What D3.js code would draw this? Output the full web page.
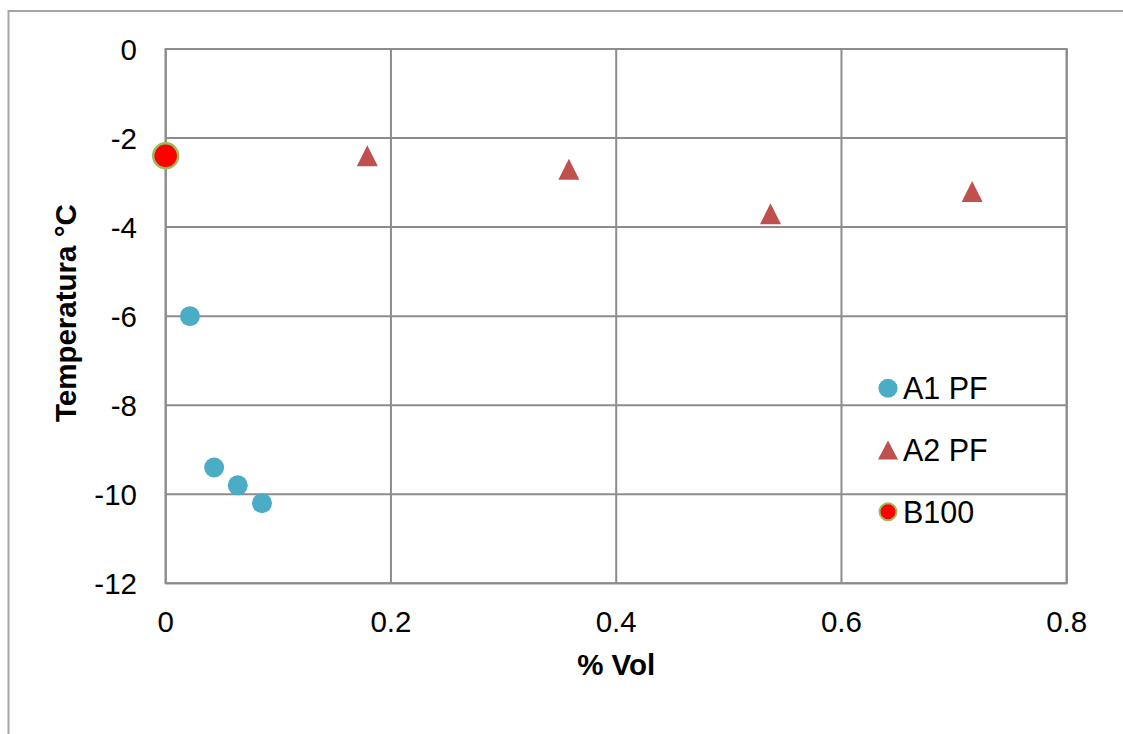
<!DOCTYPE html>
<html>
<head>
<meta charset="utf-8">
<script src="https://cdn.jsdelivr.net/npm/d3@7"></script>
<style>
  html, body { margin: 0; padding: 0; background: #fff; }
  svg { display: block; font-family: Arial, "Liberation Sans", sans-serif; }
</style>
</head>
<body>
<svg id="chart" width="1123" height="734"></svg>
<script>
// ---- data ----
const seriesNames = ["A1 PF", "A2 PF", "B100"];
const a1X = [0.0215, 0.043, 0.064, 0.0855];
const a1Y = [-6.0, -9.4, -9.8, -10.2];
const a2X = [0.179, 0.358, 0.537, 0.716];
const a2Y = [-2.4, -2.7, -3.7, -3.2];
const b100X = [0];
const b100Y = [-2.4];
const xTicks = [0, 0.2, 0.4, 0.6, 0.8];
const yTicks = [0, -2, -4, -6, -8, -10, -12];
const xTitle = "% Vol";
const yTitle = "Temperatura °C";

// ---- layout ----
const svg = d3.select("#chart");
const W = 1123, H = 734;
const plot = { left: 165.7, right: 1066.7, top: 49, bottom: 583.3 };
const gridColor = "#8c8c8c";
const fontSize = 29.5;

const x = d3.scaleLinear().domain([0, 0.8]).range([plot.left, plot.right]);
const y = d3.scaleLinear().domain([-12, 0]).range([plot.bottom, plot.top]);

// outer chart border (extends beyond the visible window)
svg.append("rect")
  .attr("x", 8.5).attr("y", 11)
  .attr("width", W + 20).attr("height", H + 20)
  .attr("fill", "#fff").attr("stroke", "#a6a6a6").attr("stroke-width", 2);

// gridlines
const g = svg.append("g");
g.selectAll("line.h").data(yTicks).join("line")
  .attr("x1", plot.left).attr("x2", plot.right)
  .attr("y1", d => y(d)).attr("y2", d => y(d))
  .attr("stroke", gridColor).attr("stroke-width", 2);
g.selectAll("line.v").data(xTicks).join("line")
  .attr("y1", plot.top).attr("y2", plot.bottom)
  .attr("x1", d => x(d)).attr("x2", d => x(d))
  .attr("stroke", gridColor).attr("stroke-width", 2);

// plot border
svg.append("rect")
  .attr("x", plot.left).attr("y", plot.top)
  .attr("width", plot.right - plot.left).attr("height", plot.bottom - plot.top)
  .attr("fill", "none").attr("stroke", gridColor).attr("stroke-width", 2);

// tick labels (plain hyphen minus, as in the reference)
const fmt = d => String(d);
svg.append("g").selectAll("text").data(yTicks).join("text")
  .attr("x", 137).attr("y", d => y(d))
  .attr("text-anchor", "end").attr("dominant-baseline", "central")
  .attr("font-size", fontSize).attr("fill", "#000")
  .text(d => fmt(d));
svg.append("g").selectAll("text").data(xTicks).join("text")
  .attr("x", d => x(d)).attr("y", 632)
  .attr("text-anchor", "middle")
  .attr("font-size", fontSize).attr("fill", "#000")
  .text(d => fmt(d));

// axis titles
svg.append("text")
  .attr("x", x(0.4)).attr("y", 675)
  .attr("text-anchor", "middle").attr("font-weight", "bold")
  .attr("font-size", fontSize).text(xTitle);
svg.append("text")
  .attr("transform", `translate(76,${(plot.top + plot.bottom) / 2 - 3}) rotate(-90)`)
  .attr("text-anchor", "middle").attr("font-weight", "bold")
  .attr("font-size", fontSize).text(yTitle);

// markers
const tri = (w, h) => `M0,${-h/2}L${w/2},${h/2}L${-w/2},${h/2}Z`;
const colA1 = "#4BACC6", colA2 = "#C0504D", colB = "#FF0000", colBStroke = "#9BBB59";

const a1 = a1X.map((v, i) => ({ x: v, y: a1Y[i] }));
const a2 = a2X.map((v, i) => ({ x: v, y: a2Y[i] }));
const b1 = b100X.map((v, i) => ({ x: v, y: b100Y[i] }));

svg.append("g").selectAll("circle").data(a1).join("circle")
  .attr("cx", d => x(d.x)).attr("cy", d => y(d.y)).attr("r", 10)
  .attr("fill", colA1);
svg.append("g").selectAll("path").data(a2).join("path")
  .attr("transform", d => `translate(${x(d.x)},${y(d.y)})`)
  .attr("d", tri(21, 21)).attr("fill", colA2);
svg.append("g").selectAll("circle").data(b1).join("circle")
  .attr("cx", d => x(d.x)).attr("cy", d => y(d.y)).attr("r", 12.5)
  .attr("fill", colB).attr("stroke", colBStroke).attr("stroke-width", 2.5);

// legend
const legY = [388.3, 450, 511.7];
const leg = svg.append("g");
leg.append("circle").attr("cx", 888).attr("cy", legY[0]).attr("r", 9.5).attr("fill", colA1);
leg.append("path").attr("transform", `translate(888,${legY[1]})`).attr("d", tri(20, 19)).attr("fill", colA2);
leg.append("circle").attr("cx", 888).attr("cy", legY[2]).attr("r", 8.5)
  .attr("fill", colB).attr("stroke", colBStroke).attr("stroke-width", 2);
leg.selectAll("text").data(seriesNames).join("text")
  .attr("x", 903).attr("y", (d, i) => legY[i])
  .attr("dominant-baseline", "central")
  .attr("font-size", 30.5).attr("fill", "#000")
  .text(d => d);
</script>
</body>
</html>
